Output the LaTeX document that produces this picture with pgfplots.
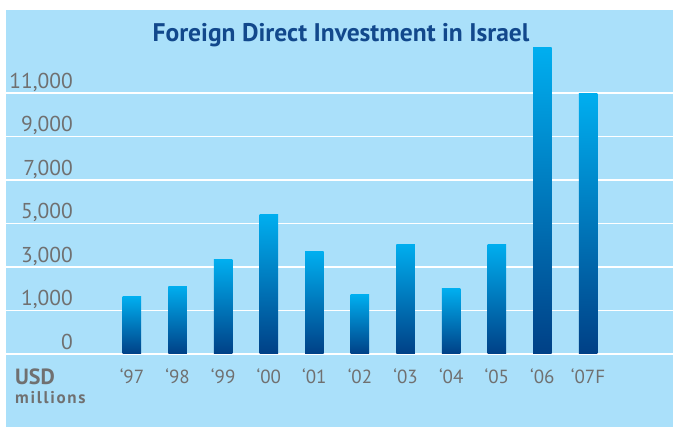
\documentclass[border=0pt]{standalone}
\usepackage{fontspec}
\setmainfont{PT Sans}
\usepackage{pgfplots}
\pgfplotsset{compat=1.18}
\definecolor{bgblue}{RGB}{170,224,250}
\definecolor{bartop}{RGB}{0,174,239}
\definecolor{barbot}{RGB}{0,64,134}
\definecolor{titleblue}{RGB}{18,72,140}
\definecolor{labgray}{RGB}{112,112,112}
\pgfplotsset{fdibar/.style={ybar, bar width=18.5pt, draw=none, bottom color=barbot, top color=bartop, forget plot}}
\begin{document}
\begin{tikzpicture}
\useasboundingbox (0,0) rectangle (673pt,427pt);
\begin{axis}[
  at={(6pt,0pt)}, anchor=south west,
  scale only axis, width=667pt, height=417pt,
  xmin=-2.763, xmax=11.864, ymin=-3356, ymax=15816,
  axis background/.style={fill=bgblue},
  axis line style={draw=none},
  major tick length=0pt,
  ytick={0,2000,4000,6000,8000,10000,12000},
  yticklabels={0,{1,000},{3,000},{5,000},{7,000},{9,000},{11,000}},
  ymajorgrids,
  grid style={white, line width=1.3pt},
  yticklabel style={anchor=base east, inner sep=0pt, xshift=67pt, yshift=4.5pt,
    font=\fontsize{21.5}{24}\selectfont, text=labgray},
  xtick={0,1,2,3,4,5,6,7,8,9,10},
  xticklabels={‘97,‘98,‘99,‘00,‘01,‘02,‘03,‘04,‘05,‘06,‘07F},
  xticklabel style={anchor=base, inner sep=0pt, yshift=43pt,
    font=\fontsize{19}{22}\selectfont, text=labgray},
  /pgf/number format/assume math mode=true,
]
\addplot[fdibar] coordinates {(0,2621)};
\addplot[fdibar] coordinates {(1,3126)};
\addplot[fdibar] coordinates {(2,4322)};
\addplot[fdibar] coordinates {(3,6391)};
\addplot[fdibar] coordinates {(4,4690)};
\addplot[fdibar] coordinates {(5,2713)};
\addplot[fdibar] coordinates {(6,5057)};
\addplot[fdibar] coordinates {(7,2989)};
\addplot[fdibar] coordinates {(8,5057)};
\addplot[fdibar] coordinates {(9,14069)};
\addplot[fdibar] coordinates {(10,11954)};
\end{axis}
\node[anchor=base, text=titleblue, font=\bfseries\fontsize{25.5}{30}\selectfont] at (341pt,385pt) {Foreign Direct Investment in Israel};
\node[anchor=base west, inner sep=0pt, text=labgray, font=\bfseries\fontsize{22}{26}\selectfont] at (15pt,42pt) {USD};
\node[anchor=base west, inner sep=0pt, text=labgray, font=\bfseries\fontsize{17}{20}\selectfont\addfontfeatures{LetterSpace=10}] at (15pt,23pt) {millions};
\end{tikzpicture}
\end{document}
